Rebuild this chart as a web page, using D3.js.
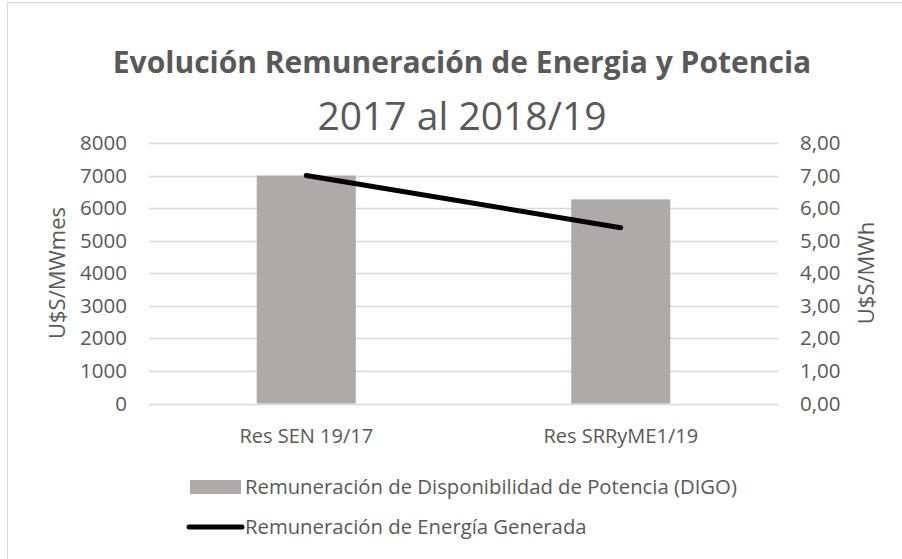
<!DOCTYPE html>
<html lang="es">
<head>
<meta charset="UTF-8">
<script src="https://d3js.org/d3.v7.min.js"></script>
<style>
  body { margin: 0; background: #fff; }
  svg { display: block; font-family: "Open Sans", sans-serif; }
  .tick text { fill: #595959; }
</style>
</head>
<body>
<script>
// Data
var categories = ["Res SEN 19/17", "Res SRRyME1/19"];
var potencia = [7000, 6270];   // U$S/MWmes, bars (left axis)
var energia = [7.0, 5.4];      // U$S/MWh, line (right axis)
var leftTicks = [0, 1000, 2000, 3000, 4000, 5000, 6000, 7000, 8000];
var rightTicks = [0, 1, 2, 3, 4, 5, 6, 7, 8];
var seriesNames = ["Remuneración de Disponibilidad de Potencia (DIGO)", "Remuneración de Energía Generada"];

var width = 902, height = 559;
var txt = "#595959";
var font = "'Open Sans', sans-serif";

var svg = d3.select("body").append("svg")
    .attr("width", width)
    .attr("height", height);

// chart area border (runs off the right/bottom edge)
svg.append("rect")
    .attr("x", 7.5).attr("y", 2.5)
    .attr("width", 1000).attr("height", 700)
    .attr("fill", "#fff")
    .attr("stroke", "#d9d9d9");

/* Plot area */
var plot = { left: 149, right: 778, top: 143, bottom: 403.5 };

var x = d3.scaleBand()
    .domain(categories)
    .range([plot.left, plot.right])
    .paddingInner(0.685)
    .paddingOuter(0.3425);

var yL = d3.scaleLinear().domain([0, 8000]).range([plot.bottom, plot.top]);
var yR = d3.scaleLinear().domain([0, 8]).range([plot.bottom, plot.top]);

// gridlines
svg.append("g")
    .selectAll("line")
    .data(leftTicks)
    .join("line")
    .attr("x1", plot.left).attr("x2", plot.right)
    .attr("y1", function(d) { return Math.round(yL(d)) + 0.5; })
    .attr("y2", function(d) { return Math.round(yL(d)) + 0.5; })
    .attr("stroke", "#d9d9d9")
    .attr("stroke-width", 1.5);

// left axis
var axL = svg.append("g")
    .attr("transform", "translate(" + (plot.left - 22) + ",0)")
    .call(d3.axisLeft(yL).tickValues(leftTicks).tickSize(0).tickFormat(d3.format("d")))
    .attr("font-family", font);
axL.select(".domain").remove();
axL.selectAll("text").attr("font-size", 20.5).attr("x", 0);

// right axis
var commaFmt = function(d) { return d.toFixed(2).replace(".", ","); };
var axR = svg.append("g")
    .attr("transform", "translate(" + (plot.right + 22) + ",0)")
    .call(d3.axisRight(yR).tickValues(rightTicks).tickSize(0).tickFormat(commaFmt))
    .attr("font-family", font);
axR.select(".domain").remove();
axR.selectAll("text").attr("font-size", 20.5).attr("x", 0);

// bottom category axis
var axB = svg.append("g")
    .attr("transform", "translate(0," + (plot.bottom + 22) + ")")
    .call(d3.axisBottom(x).tickSize(0))
    .attr("font-family", font);
axB.select(".domain").remove();
axB.selectAll("text").attr("font-size", 20).attr("dy", "0.71em");

// bars
svg.append("g")
    .selectAll("rect")
    .data(potencia)
    .join("rect")
    .attr("x", function(d, i) { return x(categories[i]); })
    .attr("y", function(d) { return yL(d); })
    .attr("width", x.bandwidth())
    .attr("height", function(d) { return yL(0) - yL(d); })
    .attr("fill", "#aeaaaa");

// line
var line = d3.line()
    .x(function(d, i) { return x(categories[i]) + x.bandwidth() / 2; })
    .y(function(d) { return yR(d); });

svg.append("path")
    .datum(energia)
    .attr("d", line)
    .attr("fill", "none")
    .attr("stroke", "#000")
    .attr("stroke-width", 5)
    .attr("stroke-linecap", "round");

// axis titles
svg.append("text")
    .attr("transform", "translate(65,273) rotate(-90)")
    .attr("text-anchor", "middle")
    .attr("font-size", 22)
    .attr("fill", txt)
    .text("U$S/MWmes");

svg.append("text")
    .attr("transform", "translate(874,273) rotate(-90)")
    .attr("text-anchor", "middle")
    .attr("font-size", 22)
    .attr("fill", txt)
    .text("U$S/MWh");

// title
var title = svg.append("text")
    .attr("x", 462).attr("y", 73)
    .attr("text-anchor", "middle")
    .attr("fill", txt);
title.append("tspan")
    .attr("font-size", 30)
    .attr("font-weight", "bold")
    .text("Evolución Remuneración de Energia y Potencia");
title.append("tspan")
    .attr("x", 462).attr("dy", 57)
    .attr("font-size", 39)
    .text("2017 al 2018/19");

// legend
var leg = svg.append("g");
leg.append("rect")
    .attr("x", 190).attr("y", 480)
    .attr("width", 51).attr("height", 14)
    .attr("fill", "#aeaaaa");
leg.append("line")
    .attr("x1", 189).attr("x2", 242)
    .attr("y1", 527).attr("y2", 527)
    .attr("stroke", "#000").attr("stroke-width", 5)
    .attr("stroke-linecap", "round");
leg.selectAll("text")
    .data(seriesNames)
    .join("text")
    .attr("x", 245)
    .attr("y", function(d, i) { return 487 + i * 40; })
    .attr("dy", "0.35em")
    .attr("font-size", 20.3)
    .attr("fill", txt)
    .text(function(d) { return d; });
</script>
</body>
</html>
